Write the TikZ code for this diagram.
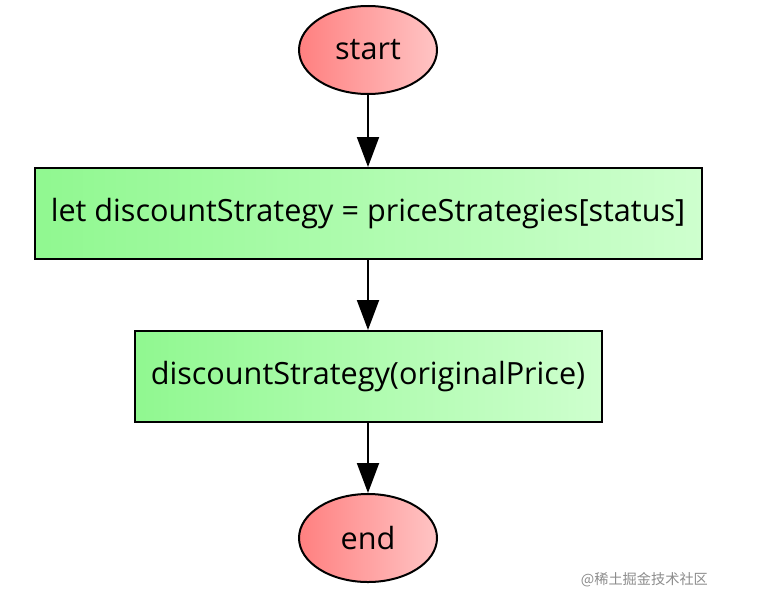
\documentclass[tikz,border=0pt]{standalone}
\usepackage{fontspec}
\setmainfont{Open Sans}
\newfontfamily\cjkfont{Noto Sans CJK SC}
\usetikzlibrary{positioning, arrows.meta, shapes.geometric}
\definecolor{termleft}{RGB}{255,128,128}
\definecolor{termright}{RGB}{255,196,196}
\definecolor{stepleft}{RGB}{144,248,144}
\definecolor{stepright}{RGB}{206,255,206}
\tikzset{
-{Triangle[length=15pt, width=11pt]}, % filled heads on every connector
node distance=35pt, % gap between two boxes
every node/.style={font=\fontsize{15.3}{18}\selectfont},
terminal/.style={ellipse, draw, line width=1pt, minimum width=69pt, minimum height=44pt, inner sep=0pt, left color=termleft, right color=termright}, % start and end
stepbox/.style={rectangle, draw, line width=1pt, minimum height=45.5pt, inner sep=0pt, left color=stepleft, right color=stepright}, % one statement
}
\begin{document}
\begin{tikzpicture}
            \useasboundingbox (0,0) rectangle (379pt,-302.5pt);
            \node[terminal] (start) at (184pt,-25pt) {start};
            \node[stepbox, below=36pt of start, minimum width=333.5pt] (pick) {let discountStrategy = priceStrategies[status]};
            \node[stepbox, below=of pick, minimum width=233.5pt] (apply) {discountStrategy(originalPrice)};
            \node[terminal, below=of apply] (end) {end};
            \node[anchor=east, text=black!45, font=\cjkfont\fontsize{7.1}{9}\selectfont] (mark) at (357.5pt,-290pt) {@稀土掘金技术社区};
            \draw[line width=1pt]
                (start) edge (pick)
                (pick) edge (apply)
                (apply) edge (end)
                ;
            \end{tikzpicture}
\end{document}
